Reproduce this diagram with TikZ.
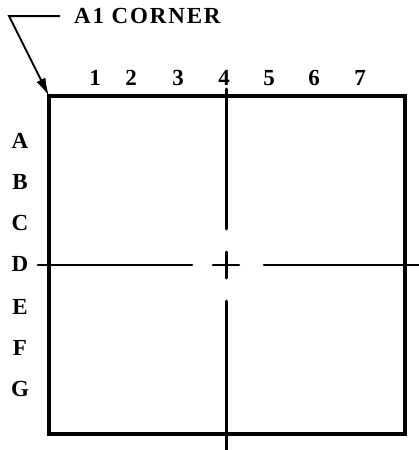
\documentclass[tikz,border=0pt]{standalone}
\usepackage{fontspec}
\setmainfont{Liberation Serif}
\usetikzlibrary{arrows.meta}
\tikzset{
  lbl/.style={font=\fontsize{23}{25}\selectfont\bfseries, inner sep=0pt},
  frame/.style={line width=3.3pt, line join=miter},
  frameleft/.style={line width=4.2pt, line cap=square},
  axis/.style={line width=3pt, line cap=round},
  thinaxis/.style={line width=2.6pt, line cap=round},
  lead/.style={line width=2pt}
}
\begin{document}
\begin{tikzpicture}[x=1pt,y=-1pt]
\useasboundingbox (0,0) rectangle (419,450);
\coordinate (tl) at (49,96);
\coordinate (tr) at (405,96);
\coordinate (br) at (405,434);
\coordinate (bl) at (49,434);
\draw[frame] (tl) -- (tr) -- (br) -- (bl) -- cycle;
\draw[frameleft] (tl) -- (bl);
% centre lines
\coordinate (vt1) at (226,89); \coordinate (vt2) at (226,229);
\coordinate (vc1) at (226,252); \coordinate (vc2) at (226,278);
\coordinate (vb1) at (226,301); \coordinate (vb2) at (226,450);
\coordinate (hl1) at (38,265); \coordinate (hl2) at (192,265);
\coordinate (hc1) at (213,265); \coordinate (hc2) at (239,265);
\coordinate (hr1) at (264,265); \coordinate (hr2) at (419,265);
\draw[axis] (vt1) -- (vt2);
\draw[axis] (vc1) -- (vc2);
\draw[axis] (vb1) -- (vb2);
\draw[thinaxis] (hl1) -- (hl2);
\draw[thinaxis] (hc1) -- (hc2);
\draw[thinaxis] (hr1) -- (hr2);
% leader
\node[lbl, anchor=west] (a1) at (74,16) {\addfontfeature{LetterSpace=8}A1 CORNER};
\coordinate (elbow) at (9,16);
\coordinate (lend) at (60,16);
\draw[lead, -{Latex[length=18pt,width=10pt]}] (lend) -- (elbow) -- (tl);
% numbers
\foreach \n/\x in {1/95,2/131,3/178,4/224,5/269,6/314,7/360}
  \node[lbl] (n\n) at (\x,78) {\n};
% letters
\foreach \l/\y in {A/141,B/182,C/223,D/264,E/307,F/348,G/389}
  \node[lbl] (l\l) at (20,\y) {\l};
\end{tikzpicture}
\end{document}
